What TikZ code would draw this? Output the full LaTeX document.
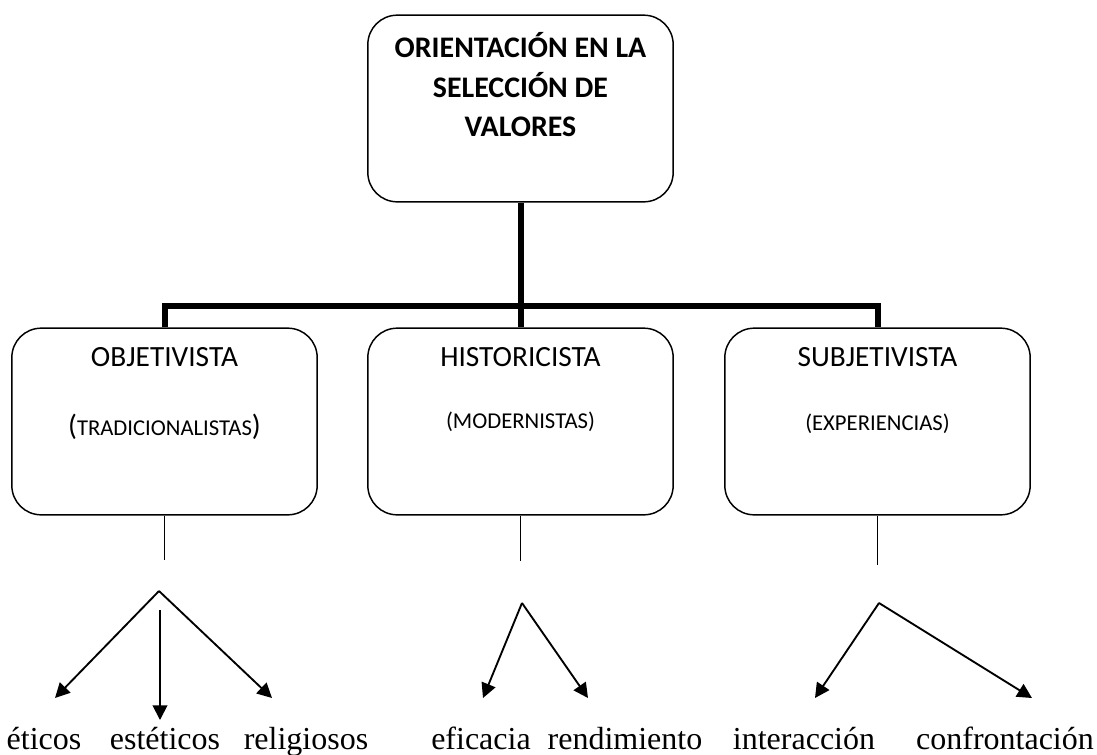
\documentclass[tikz,border=0pt]{standalone}
\usepackage{fontspec}
\setmainfont{Liberation Serif}
\newfontfamily\boxfont{Carlito}
\usetikzlibrary{arrows.meta}

\begin{document}
\begin{tikzpicture}[x=0.75pt,y=-0.75pt,
	box/.style={draw, line width=1.1pt, rounded corners=22pt, minimum width=229pt, minimum height=140pt, inner sep=0pt},
	bus/.style={line width=4.5pt},
	leg/.style={line width=0.8pt},
	branch/.style={line width=1.4pt, -{Triangle[length=11pt,width=11pt]}},
	toptext/.style={anchor=base, font=\boxfont\bfseries\fontsize{22.4}{26}\selectfont},
	head/.style={anchor=base, font=\boxfont\fontsize{22}{26}\selectfont},
	sub/.style={anchor=base, font=\boxfont\fontsize{17}{20}\selectfont},
	value/.style={anchor=base, font=\fontsize{24}{28}\selectfont}]
	\useasboundingbox (0,0) rectangle (1097,754);
	% boxes
	\node [box] (orient) at (520.5,108.5) {};
	\node [box] (obj) at (164.5,421.5) {};
	\node [box] (hist) at (520.5,421.5) {};
	\node [box] (subj) at (877.5,421.5) {};
	% box texts
	\node [toptext] (orient1) at (520.5,57) {ORIENTACIÓN EN LA};
	\node [toptext] (orient2) at (520.5,97) {SELECCIÓN DE};
	\node [toptext] (orient3) at (520.5,136) {VALORES};
	\node [head] (objhead) at (164.5,366) {OBJETIVISTA};
	\node [sub] (objsub) at (164.5,435) {{\fontsize{22}{26}\selectfont(}TRADICIONALISTAS{\fontsize{22}{26}\selectfont)}};
	\node [head] (histhead) at (520.5,366) {HISTORICISTA};
	\node [sub] (histsub) at (520.5,428) {(MODERNISTAS)};
	\node [head] (subjhead) at (877.5,366) {SUBJETIVISTA};
	\node [sub] (subjsub) at (877.5,430) {(EXPERIENCIAS)};
	% tree
	\draw [bus] (obj.north) -- ++(0,-21) -| (subj.north);
	\draw [bus] (orient.south) -- (hist.north);
	% legs
	\draw [leg] (obj.south) -- ++(0,44);
	\draw [leg] (hist.south) -- ++(0,45);
	\draw [leg] (subj.south) -- ++(0,49);
	% branches
	\coordinate (objtop) at (159,591);
	\coordinate (objmid) at (160,610);
	\coordinate (histtop) at (522,603);
	\coordinate (subjtop) at (879,603);
	\coordinate (eti) at (55,698);
	\coordinate (est) at (160,720);
	\coordinate (rel) at (272,698);
	\coordinate (efi) at (483,698);
	\coordinate (ren) at (588,698);
	\coordinate (int) at (815,698);
	\coordinate (con) at (1032,698);
	\draw [branch] (objtop) -- (eti);
	\draw [branch] (objmid) -- (est);
	\draw [branch] (objtop) -- (rel);
	\draw [branch] (histtop) -- (efi);
	\draw [branch] (histtop) -- (ren);
	\draw [branch] (subjtop) -- (int);
	\draw [branch] (subjtop) -- (con);
	% values
	\node [value] (eticos) at (44,749) {éticos};
	\node [value] (esteticos) at (165,749) {estéticos};
	\node [value] (religiosos) at (306,749) {religiosos};
	\node [value] (eficacia) at (481,749) {eficacia};
	\node [value] (rendimiento) at (625,749) {rendimiento};
	\node [value] (interaccion) at (804,749) {interacción};
	\node [value] (confrontacion) at (1005,749) {confrontación};
\end{tikzpicture}
\end{document}
